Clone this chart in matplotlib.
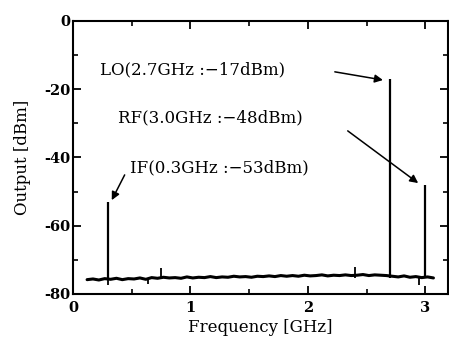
import numpy as np
import matplotlib
matplotlib.use('Agg')
import matplotlib.pyplot as plt
from matplotlib.ticker import MultipleLocator

plt.rcParams['font.family'] = ['DejaVu Serif']
plt.rcParams['axes.unicode_minus'] = False

# Noise floor of the mixer output (GHz, dBm)
floor_freq = np.linspace(0.12, 3.07, 60)
floor_level = [
    -75.8, -75.6, -75.9, -75.5, -75.7, -75.4, -75.8, -75.5, -75.6, -75.3,
    -75.7, -75.2, -75.4, -75.1, -75.3, -75.2, -75.4, -75.0, -75.3, -75.1,
    -75.2, -74.9, -75.2, -75.0, -75.1, -74.8, -75.0, -74.9, -75.1, -74.8,
    -74.9, -74.7, -74.9, -74.6, -74.8, -74.6, -74.8, -74.5, -74.7, -74.6,
    -74.4, -74.7, -74.5, -74.6, -74.4, -74.6, -74.5, -74.3, -74.6, -74.4,
    -74.5, -74.6, -74.8, -75.0, -74.7, -75.1, -74.9, -75.2, -75.0, -75.3,
]

# Tones
peak_freq = [0.30, 2.70, 3.00]
peak_level = [-53, -17, -48]

# Small spurs on the floor (up and down)
spur_freq = [0.75, 2.40, 0.30, 0.64, 2.95]
spur_level = [-72.5, -72.0, -77.5, -77.0, -77.5]
spur_base = -75.2

labels = ['IF(0.3GHz :\u221253dBm)', 'LO(2.7GHz :\u221217dBm)',
          'RF(3.0GHz :\u221248dBm)']

fig = plt.figure(figsize=(4.49, 3.43), dpi=100)
ax = fig.add_axes([0.1626, 0.1429, 0.8341, 0.7959])

ax.plot(floor_freq, floor_level, color='k', lw=2.2, solid_capstyle='round')
ax.vlines(peak_freq, spur_base, peak_level, color='k', lw=1.6)
ax.vlines(spur_freq, spur_base, spur_level, color='k', lw=1.3)

# text position, arrow tail, arrow head (data coords)
text_pos = [(0.485, -43.1), (0.23, -14.4), (0.38, -28.4)]
tail_pos = [(0.44, -45.1), (2.23, -14.9), (2.34, -32.2)]
head_pos = [(0.33, -52.5), (2.64, -17.3), (2.94, -47.5)]
for lab, tp, tl, hd in zip(labels, text_pos, tail_pos, head_pos):
    ax.text(tp[0], tp[1], lab, fontsize=12, ha='left', va='center')
    ax.annotate('', xy=hd, xytext=tl,
                arrowprops=dict(arrowstyle='-|>', color='k', lw=1.1,
                                mutation_scale=12, shrinkA=0, shrinkB=0))

ax.set_xlim(0, 3.19)
ax.set_ylim(-80, 0)
ax.xaxis.set_major_locator(MultipleLocator(1))
ax.xaxis.set_minor_locator(MultipleLocator(0.5))
ax.yaxis.set_major_locator(MultipleLocator(20))
ax.yaxis.set_minor_locator(MultipleLocator(10))
ax.tick_params(which='both', direction='in', top=True, right=True,
               labelsize=10.5)
ax.tick_params(which='major', length=6, width=1.3)
ax.tick_params(which='minor', length=3.5, width=1.2)
ax.tick_params(axis='x', pad=5)
ax.tick_params(axis='y', pad=2)
for t in ax.get_xticklabels() + ax.get_yticklabels():
    t.set_fontweight('bold')
for sp in ax.spines.values():
    sp.set_linewidth(1.5)

ax.set_xlabel('Frequency [GHz]', fontsize=12, labelpad=3)
ax.set_ylabel('Output [dBm]', fontsize=12, labelpad=9)

fig.savefig('out.png', dpi=100)
